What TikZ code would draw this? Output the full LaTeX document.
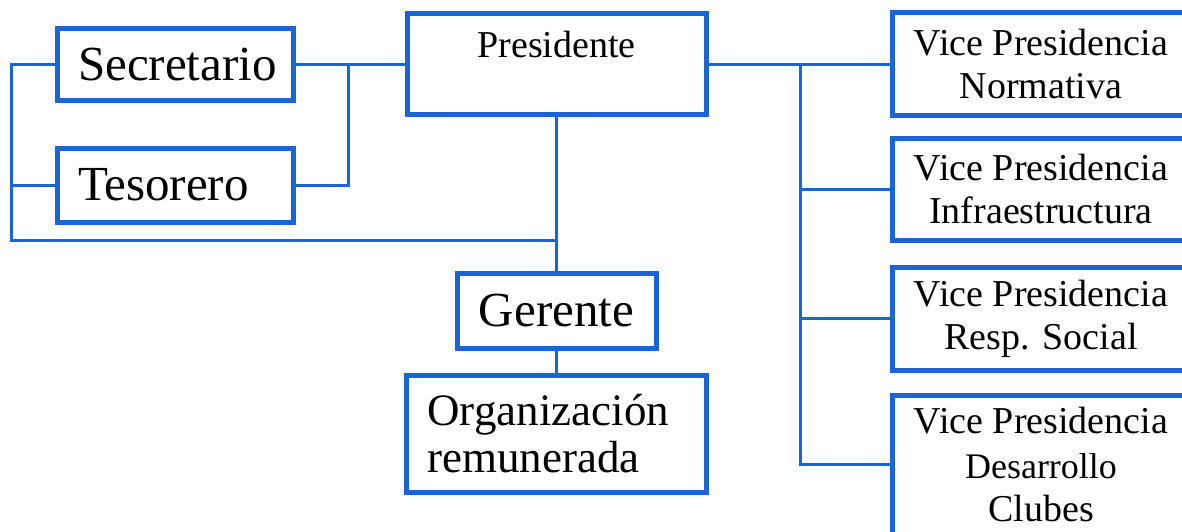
\documentclass[tikz,border=0pt]{standalone}
\usepackage{fontspec}
\setmainfont{Liberation Serif}
\definecolor{orgblue}{RGB}{25,100,215}
\begin{document}
\begin{tikzpicture}[x=1pt,y=-1pt,
  box/.style={draw=orgblue, line width=5pt, fill=white, inner sep=0pt, rectangle},
  conn/.style={draw=orgblue, line width=3pt},
  bigtext/.style={font=\fontsize{49}{55}\selectfont},
  vptext/.style={font=\fontsize{38}{43}\selectfont, align=center}]
\useasboundingbox (0,0) rectangle (1182,532);
\clip (0,0) rectangle (1182,532);
\fill[white] (0,0) rectangle (1182,532);

% left column
\node[box, bigtext, minimum width=236pt, minimum height=72pt, text width=194pt, inner xsep=21pt, align=left] (sec) at (175,64.5) {Secretario};
\node[box, bigtext, minimum width=236pt, minimum height=74pt, text width=194pt, inner xsep=21pt, align=left] (tes) at (175,185) {Tesorero};

% centre column
\node[box, minimum width=299pt, minimum height=101pt] (pres) at (556.5,64.5) {};
\node[font=\fontsize{38}{43}\selectfont] (prestext) at (556.5,45) {Presidente};
\node[box, bigtext, minimum width=199pt, minimum height=75pt] (ger) at (556.5,310.5) {Gerente};
\node[box, font=\fontsize{45}{47}\selectfont, minimum width=300pt, minimum height=117pt, text width=258pt, inner xsep=21pt, align=left] (org) at (556.5,433.5) {Organización\\remunerada};

% right column
\node[box, vptext, minimum width=298pt, minimum height=103pt] (vp1) at (1041,64.5) {Vice Presidencia\\Normativa};
\node[box, vptext, minimum width=298pt, minimum height=102pt] (vp2) at (1041,189) {Vice Presidencia\\Infraestructura};
\node[box, vptext, minimum width=298pt, minimum height=103pt] (vp3) at (1041,318.5) {Vice Presidencia\\Resp. Social};
\node[box, minimum width=298pt, minimum height=165pt] (vp4) at (1041,477.5) {};
\node[vptext, inner sep=0pt] (vp4text) at (1041,464) {Vice Presidencia\\[2pt]\fontsize{36}{36}\selectfont Desarrollo\\Clubes};

% junction points
\coordinate (lbus) at (11,240);
\coordinate (jn) at (348,64.5);
\coordinate (rb) at (800,64.5);

% connectors
\draw[conn] (sec.east) -- (pres.west);
\draw[conn] (tes.east) -| (jn);
\draw[conn] (sec.west) -| (lbus) -- (lbus -| pres.south);
\draw[conn] (tes.west) -- (tes.west -| lbus);
\draw[conn] (pres.south) -- (ger.north);
\draw[conn] (ger.south) -- (org.north);
\draw[conn] (pres.east) -- (vp1.west);
\draw[conn] (rb) |- (vp4text.west -| vp4.west);
\draw[conn] (vp2.west) -- (vp2.west -| rb);
\draw[conn] (vp3.west) -- (vp3.west -| rb);
\end{tikzpicture}
\end{document}
